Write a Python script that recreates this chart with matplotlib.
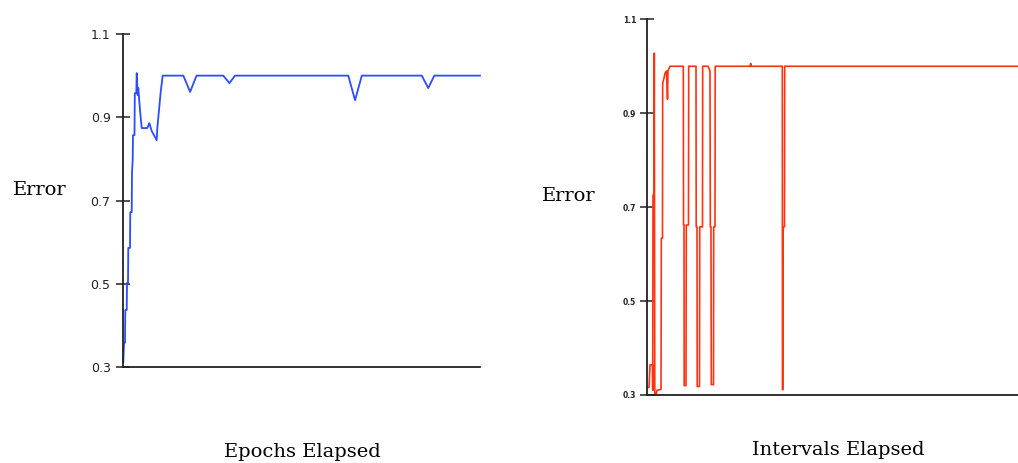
import matplotlib
matplotlib.use("Agg")
import matplotlib.pyplot as plt

# ---------------- data ----------------
y_ticks = [0.3, 0.5, 0.7, 0.9, 1.1]
y_tick_labels = ["0.3", "0.5", "0.7", "0.9", "1.1"]

epochs = [0.08, 0.28, 0.56, 0.64, 1.04, 1.12, 1.40, 1.48, 1.96, 2.04, 2.44, 2.52,
          2.72, 2.80, 3.22, 3.31, 3.73, 3.84, 4.12, 4.29, 4.76, 5.24, 5.69, 6.81,
          7.37, 8.04, 9.44, 9.61, 10.17, 10.56, 11.12,
          16.9, 18.8, 20.6, 28.1, 29.8, 31.4, 63.1, 65.0, 66.9, 83.7, 85.5, 87.2, 100.0]
epoch_error = [0.312, 0.358, 0.358, 0.437, 0.437, 0.502, 0.502, 0.586, 0.586, 0.672, 0.672, 0.768,
               0.797, 0.857, 0.857, 0.958, 0.958, 1.006, 0.953, 0.970, 0.917, 0.874, 0.874, 0.874,
               0.886, 0.867, 0.845, 0.874, 0.925, 0.961, 1.0,
               1.0, 0.961, 1.0, 1.0, 0.982, 1.0, 1.0, 0.941, 1.0, 1.0, 0.970, 1.0, 1.0]

intervals = [0.5, 4.6, 7.3, 14.0, 14.6, 15.4, 18.1, 18.9, 20.2, 23.5, 26.2, 37.0,
             37.8, 41.0, 41.5, 45.1, 47.7, 51.8, 54.5, 55.8, 61.2,
             97.1, 97.7, 99.0, 99.5, 104.4, 105.2, 111.1, 111.7,
             131.4, 131.9, 134.1, 134.6, 140.8, 141.4, 148.9, 149.4,
             163.7, 169.1, 170.0, 171.8, 172.6, 178.6, 179.1, 182.6, 183.2,
             277.0, 278.9, 280.8,
             364.2, 364.7, 365.5, 366.1, 370.1, 370.7, 1000.0]
interval_error = [0.316, 0.316, 0.364, 0.364, 0.31, 0.726, 0.726, 1.028, 0.30, 0.30, 0.31, 0.312,
                  0.634, 0.634, 0.964, 0.975, 0.985, 0.99, 0.93, 0.99, 1.0,
                  1.0, 0.662, 0.662, 0.32, 0.32, 0.662, 0.662, 1.0,
                  1.0, 0.658, 0.658, 0.318, 0.318, 0.658, 0.658, 1.0,
                  1.0, 0.99, 0.658, 0.658, 0.322, 0.322, 0.658, 0.658, 1.0,
                  1.0, 1.006, 1.0,
                  1.0, 0.311, 0.311, 0.658, 0.658, 1.0, 1.0]

# ---------------- figure ----------------
fig = plt.figure(figsize=(10.18, 4.63), dpi=100)
fig.patch.set_facecolor("white")

W, H = 1018.0, 463.0
axL = fig.add_axes([123 / W, (H - 367) / H, 357 / W, 333 / H])
axR = fig.add_axes([647.3 / W, (H - 395) / H, (W - 647.3) / W, 375.7 / H])

for ax in (axL, axR):
    for s in ("top", "right"):
        ax.spines[s].set_visible(False)
    for s in ("left", "bottom"):
        ax.spines[s].set_color("#222222")
        ax.spines[s].set_linewidth(1.3)
    ax.set_ylim(0.3, 1.1)
    ax.set_yticks(y_ticks)
    ax.set_xticks([])
    ax.tick_params(axis="y", direction="inout", length=10, width=1.1, color="#222222")

axL.set_xlim(0, 100)
axL.plot(epochs, epoch_error, color="#2b4cff", linewidth=1.3, clip_on=False)
axL.set_yticklabels(y_tick_labels, fontsize=9, family="DejaVu Sans", color="#222222")
axL.tick_params(axis="y", pad=4)

axR.set_xlim(0, 1000)
axR.plot(intervals, interval_error, color="#ff3311", linewidth=1.2, clip_on=False)
axR.set_yticklabels(y_tick_labels, fontsize=5.5, family="DejaVu Sans",
                    fontweight="bold", color="#222222")
axR.tick_params(axis="y", pad=3)

serif = "DejaVu Serif"
fig.text(40 / W, 1 - 190 / H, "Error", ha="center", va="center", fontsize=14, family=serif)
fig.text(302 / W, 1 - 452 / H, "Epochs Elapsed", ha="center", va="center", fontsize=14, family=serif)
fig.text(569 / W, 1 - 196 / H, "Error", ha="center", va="center", fontsize=14, family=serif)
fig.text(838 / W, 1 - 450 / H, "Intervals Elapsed", ha="center", va="center", fontsize=14, family=serif)

fig.savefig("out.png", dpi=100, facecolor="white")
